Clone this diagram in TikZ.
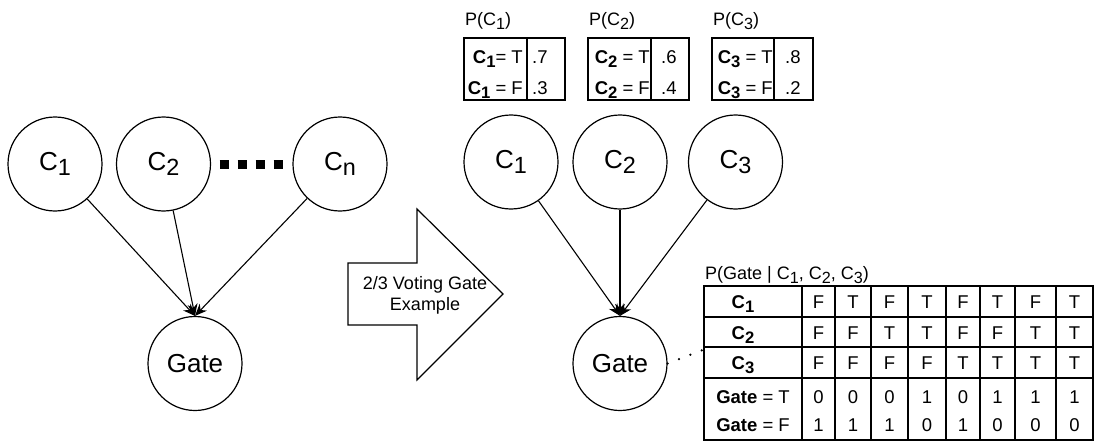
\documentclass[tikz,border=0pt]{standalone}
\usepackage{fontspec}
\setmainfont{Liberation Sans}
\usepackage{graphicx}
\usetikzlibrary{arrows.meta}
% lowered, slightly reduced index
\newcommand{\lsub}[1]{\raisebox{-0.22em}{\scalebox{0.9}{#1}}}

\begin{document}
\begin{tikzpicture}[x=1pt,y=-1pt,
  var/.style={circle, draw, line width=1.2pt, minimum size=94pt, inner sep=0pt,
              font=\fontsize{26}{30}\selectfont},
  edge/.style={line width=1.1pt, -{Stealth[length=12pt,width=10pt]}},
  grid/.style={line width=1.2pt},
  txt/.style={inner sep=0pt, font=\fontsize{18}{21}\selectfont},
  val/.style={inner sep=0pt, anchor=base, font=\fontsize{18.5}{21}\selectfont}]

\useasboundingbox (0,0) rectangle (1094,441);

% ---- general network ----
\node[var] (c1) at (55,164) {C\lsub{1}};
\node[var] (c2) at (163.5,164) {C\lsub{2}};
\node[var] (cn) at (340,164) {C\lsub{n}};
\node[var] (gl) at (195,363.5) {Gate};
\draw[edge] (c1) -- (gl.north);
\draw[edge] (c2) -- (gl.north);
\draw[edge] (cn) -- (gl.north);
\draw[line width=9pt, dash pattern=on 9pt off 9pt, shorten <=8.5pt, shorten >=3pt] (c2) -- (cn);

% ---- block arrow ----
\draw[line width=1.2pt] (348,263) -- (417,263) -- (417,209) -- (503,294)
  -- (417,380) -- (417,325) -- (348,325) -- cycle;
\node[txt, align=center] (lbl) at (425,295.5) {2/3 Voting Gate\\Example};

% ---- 2/3 voting gate network ----
\node[var] (r1) at (511,162) {C\lsub{1}};
\node[var] (r2) at (620,162) {C\lsub{2}};
\node[var] (r3) at (735.5,162) {C\lsub{3}};
\node[var] (gr) at (620,363.5) {Gate};
\draw[edge] (r1) -- (gr.north);
\draw[edge] (r2) -- (gr.north);
\draw[edge] (r3) -- (gr.north);

% ---- prior tables ----
\foreach \i/\L/\D/\R/\lx/\ex/\vx/\pt/\pf in
  {1/464/527/565/465/523/532/.7/.3,
   2/588/651/689/589/650/661/.6/.4,
   3/712/774/813/713/773/785/.8/.2} {
  \draw[grid] (\L,38) rectangle (\R,100);
  \draw[grid] (\D,38) -- (\D,100);
  \node[txt, anchor=base west] (p\i) at (\lx,26) {P(C\lsub{\i})};
  \ifnum\i=1
    \node[val, anchor=base east] (t\i) at (\ex,63.5) {\textbf{C\lsub{\i}}= T};
  \else
    \node[val, anchor=base east] (t\i) at (\ex,63.5) {\textbf{C\lsub{\i}} = T};
  \fi
  \node[val, anchor=base east] (f\i) at (\ex,94.5) {\textbf{C\lsub{\i}} = F};
  \node[val, anchor=base west] (pt\i) at (\vx,63.5) {\pt};
  \node[val, anchor=base west] (pf\i) at (\vx,94.5) {\pf};
}

% ---- conditional probability table ----
\node[txt, anchor=base west] (ph) at (705,279.5) {P(Gate | C\lsub{1}, C\lsub{2}, C\lsub{3})};
\draw[grid] (704,286) rectangle (1093,440);
\foreach \y in {317,347,378} \draw[grid] (704,\y) -- (1093,\y);
\foreach \x in {802,835,871,908,946,980,1015,1056} \draw[grid] (\x,286) -- (\x,440);

\node[val] (h1) at (743,308) {\textbf{C\lsub{1}}};
\node[val] (h2) at (743,339.5) {\textbf{C\lsub{2}}};
\node[val] (h3) at (743,369.5) {\textbf{C\lsub{3}}};
\node[val] (h4) at (753,403) {\textbf{Gate} = T};
\node[val] (h5) at (753,431.5) {\textbf{Gate} = F};

\foreach \x/\a/\b/\c/\d/\e [count=\k] in
  {818.5/F/F/F/0/1, 853/T/F/F/0/1, 889.5/F/T/F/0/1, 927/T/T/F/1/0,
   963/F/F/T/0/1, 997.5/T/F/T/1/0, 1035.5/F/T/T/1/0, 1074.5/T/T/T/1/0} {
  \node[val] (a\k) at (\x,308) {\a};
  \node[val] (b\k) at (\x,339.5) {\b};
  \node[val] (s\k) at (\x,369.5) {\c};
  \node[val] (d\k) at (\x,403) {\d};
  \node[val] (e\k) at (\x,431.5) {\e};
}

% ---- link from the gate to its table ----
\coordinate (tin) at (704,349.5);
\draw[line width=2.5pt, line cap=round, dash pattern=on 0pt off 12.2pt] (gr.east) -- (tin);
\end{tikzpicture}
\end{document}
